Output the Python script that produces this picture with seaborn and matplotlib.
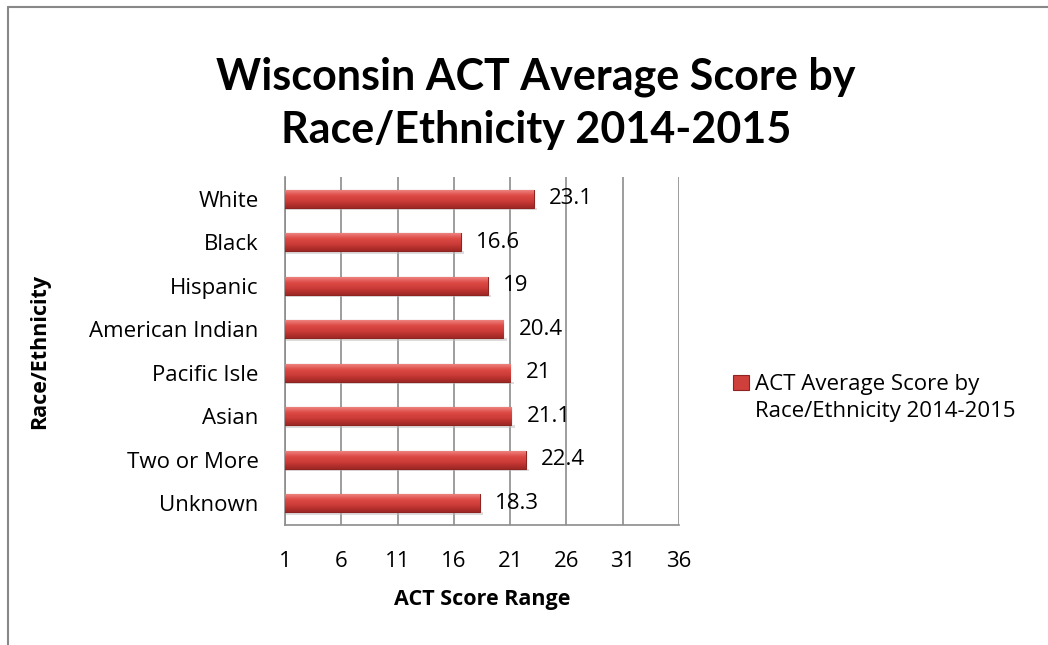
import numpy as np
import pandas as pd
import matplotlib
matplotlib.use("Agg")
import matplotlib.pyplot as plt
import seaborn as sns
from matplotlib.lines import Line2D
from matplotlib.patches import Patch
from matplotlib.colors import LinearSegmentedColormap

groups = ["White", "Black", "Hispanic", "American Indian", "Pacific Isle",
          "Asian", "Two or More", "Unknown"]
scores = [23.1, 16.6, 19, 20.4, 21, 21.1, 22.4, 18.3]
ticks = [1, 6, 11, 16, 21, 26, 31, 36]
series_name = ["ACT Average Score by", "Race/Ethnicity 2014-2015"]

df = pd.DataFrame({"group": groups, "score": scores})

sns.set_style("white")
plt.rcParams["font.family"] = ["Open Sans", "DejaVu Sans"]
plt.rcParams["text.color"] = "black"
plt.rcParams["axes.labelcolor"] = "black"
plt.rcParams["xtick.color"] = "black"
plt.rcParams["ytick.color"] = "black"

fig = plt.figure(figsize=(10.48, 6.45), dpi=100)
ax = fig.add_axes([285 / 1048, 1 - 525 / 645, 394 / 1048, 348 / 645])

sns.barplot(data=df, x="score", y="group", orient="h", color="#C83C3A",
            width=0.42, edgecolor="#8E2422", linewidth=0.8, ax=ax, zorder=3)

ax.set_xlim(1, 36)
ax.set_ylim(7.5, -0.5)

# bevel-like vertical gradient on every bar (start at the axis minimum)
grad = LinearSegmentedColormap.from_list(
    "bevel", ["#F08C88", "#DE4B47", "#C93935", "#9E2725"])
for p in ax.patches:
    x0, y0 = p.get_x(), p.get_y()
    w, h = p.get_width(), p.get_height()
    left = max(x0, 1)
    im = ax.imshow(np.linspace(0, 1, 64).reshape(-1, 1), cmap=grad,
                   extent=[left, x0 + w, y0 + h, y0], aspect="auto",
                   zorder=3.5, origin="upper")
    im.set_clip_path(p)
    ax.add_patch(plt.Rectangle((left, y0 + h), x0 + w - left + 0.3, 0.06,
                               color="#BBBBBB", alpha=0.5, zorder=2,
                               linewidth=0))

ax.set_xlim(1, 36)
ax.set_ylim(7.5, -0.5)

for c in ax.containers:
    ax.bar_label(c, labels=[f"{v:g}" for v in scores], padding=11,
                 fontsize=16, color="black")

ax.set_xticks(ticks)
ax.xaxis.grid(True, color="#8C8C8C", linewidth=1.2, zorder=0)
ax.yaxis.grid(False)
for s in ["top", "right"]:
    ax.spines[s].set_visible(False)
for s in ["left", "bottom"]:
    ax.spines[s].set_color("#8C8C8C")
    ax.spines[s].set_linewidth(1.2)
ax.tick_params(axis="x", length=0, pad=19, labelsize=16)
ax.tick_params(axis="y", length=0, pad=19, labelsize=16)
ax.set_xlabel("ACT Score Range", fontsize=15.5, fontweight="bold", labelpad=12)
ax.set_ylabel("Race/Ethnicity", fontsize=15.5, fontweight="bold")
ax.yaxis.set_label_coords(-(285 - 50) / 394, 0.5)

fig.text(536 / 1048, 1 - 103 / 645,
         "Wisconsin ACT Average Score by\nRace/Ethnicity 2014-2015",
         ha="center", va="center", fontsize=31, fontweight="bold",
         family=["Lato", "DejaVu Sans"], linespacing=1.4)

handle = Patch(facecolor="#CF3F3B", edgecolor="#8E2422", linewidth=0.8)
fig.legend([handle], [series_name[0]], loc="center left",
           bbox_to_anchor=(722 / 1048, 1 - 385 / 645), frameon=False,
           fontsize=16, handlelength=0.7, handleheight=0.7,
           handletextpad=0.3, borderpad=0)
fig.text(755 / 1048, 1 - 412 / 645, series_name[1], fontsize=16,
         ha="left", va="center")

# chart frame (only top and left edges show in the crop)
fig.add_artist(Line2D([8 / 1048, 1], [1 - 7 / 645, 1 - 7 / 645],
                      color="#888888", linewidth=1.5))
fig.add_artist(Line2D([8 / 1048, 8 / 1048], [0, 1 - 7 / 645],
                      color="#888888", linewidth=1.5))

fig.savefig("out.png", dpi=100, facecolor="white")
